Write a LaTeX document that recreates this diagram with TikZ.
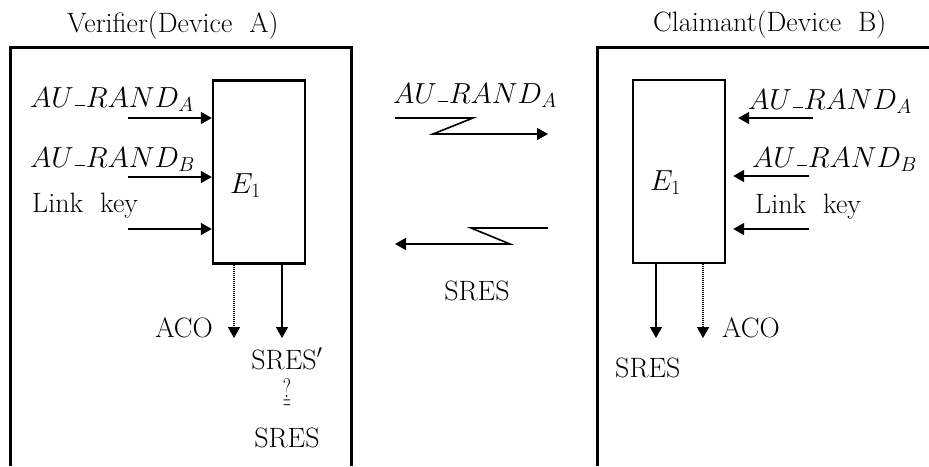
\RequirePackage{fix-cm}
\documentclass[tikz,border=0pt]{standalone}
\usepackage{graphicx}
\usetikzlibrary{arrows.meta}
\newcommand{\usc}{\kern1pt\rule[1pt]{10pt}{1.5pt}\kern1pt}
\begin{document}
\begin{tikzpicture}[x=1pt,y=-1pt,
  frame/.style={line width=3pt},
  enc/.style={draw,line width=2.4pt,minimum width=92pt,minimum height=183pt,inner sep=0pt},
  arr/.style={line width=1.6pt,-{Triangle[length=11pt,width=12pt]}},
  dotarr/.style={line width=1.6pt,dash pattern=on 1.2pt off 0.8pt,-{Triangle[length=11pt,width=12pt]}},
  txt/.style={inner sep=0pt,font=\fontsize{28}{32}\selectfont},
  ttl/.style={inner sep=0pt,font=\fontsize{28}{32}\selectfont},
  mth/.style={inner sep=0pt,font=\fontsize{29}{33}\selectfont}]
\useasboundingbox (0,0) rectangle (929,466);
% outer frames
\coordinate (lbl) at (10,466);
\coordinate (ltl) at (10,47);
\coordinate (ltr) at (351,47);
\coordinate (lbr) at (351,466);
\coordinate (rbl) at (597,466);
\coordinate (rtl) at (597,47);
\coordinate (rtr) at (929,47);
\draw[frame] (lbl) -- (ltl) -- (ltr) -- (lbr);
\draw[frame] (rbl) -- (rtl) -- (rtr);
% titles
\node[ttl,anchor=base west] (tA) at (67,32) {Verifier(Device\ \ A)};
\node[ttl,anchor=base west] (tB) at (653,31) {Claimant(Device\ \ B)};
% E1 boxes
\node[enc] (eA) at (259,172) {};
\node[enc] (eB) at (679,171.5) {};
\node[mth,anchor=base west] (eAl) at (230,193) {$E_1$};
\node[mth,anchor=base west] (eBl) at (650,190) {$E_1$};
% left inputs
\node[mth,anchor=base west] (la) at (30,107) {$AU\usc RAND_A$};
\node[mth,anchor=base west] (lb) at (30,167) {$AU\usc RAND_B$};
\node[txt,anchor=base west] (lk) at (32,212) {Link\ \ key};
\coordinate (lia) at (128,118);
\coordinate (lib) at (128,177);
\coordinate (lic) at (128,229);
\draw[arr] (lia) -- (lia -| eA.west);
\draw[arr] (lib) -- (lib -| eA.west);
\draw[arr] (lic) -- (lic -| eA.west);
% left outputs
\coordinate (loa) at (234,338);
\coordinate (lob) at (282,338);
\draw[dotarr] (loa |- eA.south) -- (loa);
\draw[arr] (lob |- eA.south) -- (lob);
\node[txt,anchor=base east] (laco) at (213,337) {ACO};
\node[txt,anchor=base] (lsr1) at (287,369) {SRES$'$};
\node[inner sep=0pt,anchor=north,font=\fontsize{27}{29}\selectfont] (lq) at (287,378) {\shortstack{\scalebox{0.7}[1]{?}\\[0pt]\scalebox{0.4}[1]{$=$}}};
\node[txt,anchor=base] (lsr2) at (287,447) {SRES};
% middle
\node[mth,anchor=base west] (ma) at (393,103) {$AU\usc RAND_A$};
\coordinate (z1) at (395,118);
\coordinate (z2) at (473,118);
\coordinate (z3) at (433,134);
\coordinate (z4) at (548,134);
\draw[arr] (z1) -- (z2) -- (z3) -- (z4);
\coordinate (w1) at (548,228);
\coordinate (w2) at (471,228);
\coordinate (w3) at (510,244);
\coordinate (w4) at (395,244);
\draw[arr] (w1) -- (w2) -- (w3) -- (w4);
\node[txt,anchor=base] (msr) at (477,300) {SRES};
% right inputs
\node[mth,anchor=base west] (ra) at (748,109) {$AU\usc RAND_A$};
\node[mth,anchor=base west] (rb) at (752,167) {$AU\usc RAND_B$};
\node[txt,anchor=base west] (rk) at (755,213) {Link\ \ key};
\coordinate (ria) at (813,118);
\coordinate (rib) at (809,176);
\coordinate (ric) at (809,229);
\draw[arr] (ria) -- ([xshift=12pt]ria -| eB.east);
\draw[arr] (rib) -- ([xshift=7pt]rib -| eB.east);
\draw[arr] (ric) -- ([xshift=7pt]ric -| eB.east);
% right outputs
\coordinate (roa) at (656,338);
\coordinate (rob) at (703,338);
\draw[arr] (roa |- eB.south) -- (roa);
\draw[dotarr] (rob |- eB.south) -- (rob);
\node[txt,anchor=base west] (rsr) at (615,377) {SRES};
\node[txt,anchor=base west] (raco) at (722,337) {ACO};
\end{tikzpicture}
\end{document}
